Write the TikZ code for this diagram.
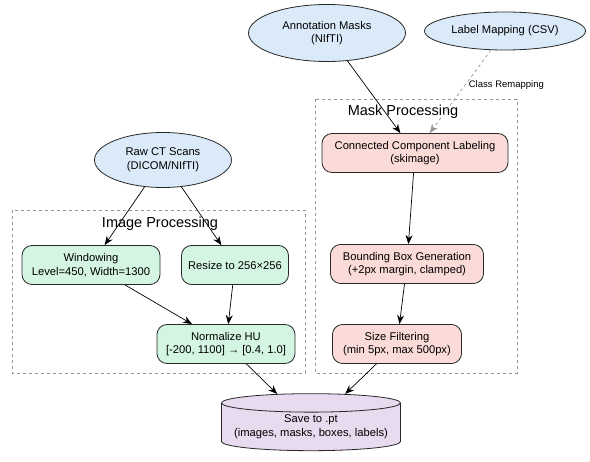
\documentclass[tikz,border=0pt]{standalone}
\usepackage{fontspec}
\setmainfont{Liberation Sans}
\usetikzlibrary{positioning, shapes.geometric, arrows.meta}
\definecolor{InputBlue}{RGB}{218, 234, 248}
\definecolor{ImgGreen}{RGB}{213, 245, 227}
\definecolor{MaskPink}{RGB}{250, 219, 216}
\definecolor{SavePurple}{RGB}{232, 218, 239}
\definecolor{EdgeGray}{RGB}{40, 40, 40}
\definecolor{GroupGray}{RGB}{150, 150, 150}

\begin{document}
\begin{tikzpicture}[x=1pt, y=-1pt,
    source/.style={ellipse, draw=EdgeGray, fill=InputBlue, line width=0.8pt, inner sep=0pt, align=center, font=\fontsize{11.2}{13.5}\selectfont},
    imgstep/.style={rectangle, rounded corners=10pt, draw=EdgeGray, fill=ImgGreen, line width=0.8pt, inner sep=0pt, align=center, minimum height=39pt, font=\fontsize{11.2}{13.5}\selectfont},
    maskstep/.style={imgstep, fill=MaskPink},
    group/.style={draw=GroupGray, dashed, line width=0.7pt},
    flow/.style={-{Stealth[length=9pt, width=7pt]}, line width=0.7pt, black}]
    \useasboundingbox (0,0) rectangle (590,462);

    % Groups
    \draw[group] (12,210) rectangle (305,373);
    \node[font=\fontsize{14.5}{17}\selectfont] (imgtitle) at (160,224) {Image Processing};
    \draw[group] (315,99) rectangle (517,373);
    \node[font=\fontsize{14.5}{17}\selectfont] (masktitle) at (403,112) {Mask Processing};

    % Inputs
    \node[source, minimum width=157pt, minimum height=57pt] (annot) at (327,33) {Annotation Masks\\(NIfTI)};
    \node[source, minimum width=161pt, minimum height=38pt] (labmap) at (505,31) {Label Mapping (CSV)};
    \node[source, minimum width=137pt, minimum height=55pt] (rawct) at (163,160) {Raw CT Scans\\(DICOM/NIfTI)};

    % Image processing
    \node[imgstep, minimum width=138pt] (window) at (91,265) {Windowing\\Level=450, Width=1300};
    \node[imgstep, minimum width=107pt] (resize) at (235,265) {Resize to 256×256};
    \node[imgstep, minimum width=138pt] (norm) at (226,344) {Normalize HU\\{[-200, 1100]} → [0.4, 1.0]};

    % Mask processing
    \node[maskstep, minimum width=186pt] (ccl) at (415,153) {Connected Component Labeling\\(skimage)};
    \node[maskstep, minimum width=153pt] (bbox) at (407,264) {Bounding Box Generation\\(+2px margin, clamped)};
    \node[maskstep, minimum width=129pt] (sizef) at (397,344) {Size Filtering\\(min 5px, max 500px)};

    % Output
    \node[cylinder, shape border rotate=90, aspect=0.12, draw=EdgeGray, fill=SavePurple, line width=0.8pt,
          minimum width=179pt, minimum height=57pt, inner sep=0pt, align=center,
          font=\fontsize{11.2}{13.5}\selectfont] (save) at (311,427) {Save to .pt\\(images, masks, boxes, labels)};

    % Connectors
    \draw[flow] (annot) -- (ccl);
    \draw[flow, GroupGray, dashed] (labmap) -- node[right, font=\fontsize{9.5}{11}\selectfont, black, pos=0.42] (remap) {Class Remapping} (ccl);
    \draw[flow] (rawct) -- (window);
    \draw[flow] (rawct) -- (resize);
    \draw[flow] (window) -- (norm);
    \draw[flow] (resize) -- (norm);
    \draw[flow] (ccl) -- (bbox);
    \draw[flow] (bbox) -- (sizef);
    \draw[flow] (norm) -- (save);
    \draw[flow] (sizef) -- (save);
\end{tikzpicture}
\end{document}
